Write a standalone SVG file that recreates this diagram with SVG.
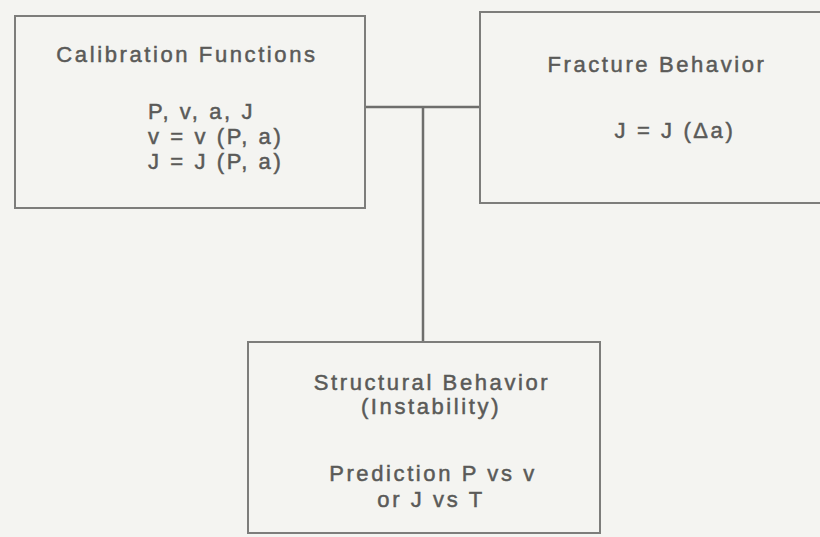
<svg xmlns="http://www.w3.org/2000/svg" width="820" height="537" viewBox="0 0 820 537">
<style>
.box{fill:none;stroke:#7d7d7b;stroke-width:2}
.con{fill:none;stroke:#6e6e6c;stroke-width:2.5}
text{font-family:"Liberation Sans",Arial,sans-serif;font-size:22px;fill:#5a5a58;stroke:#5a5a58;stroke-width:0.5;letter-spacing:2.6px}
.c{text-anchor:middle}
</style>
<rect width="820" height="537" fill="#f4f4f1"/>
<g id="connectors">
<path class="con" d="M365 107 H480"/>
<path class="con" d="M423 107 V342"/>
</g>
<g id="calibration">
<rect class="box" x="15" y="16" width="350" height="192"/>
<text x="187" y="62" class="c">Calibration Functions</text>
<text x="148" y="119">P, v, a, J</text>
<text x="148" y="144">v = v (P, a)</text>
<text x="148" y="169">J = J (P, a)</text>
</g>
<g id="fracture">
<rect class="box" x="480" y="12" width="350" height="191"/>
<text x="657" y="72" class="c">Fracture Behavior</text>
<text x="675" y="138" class="c">J = J (Δa)</text>
</g>
<g id="structural">
<rect class="box" x="248" y="342" width="352" height="191"/>
<text x="432" y="390" class="c">Structural Behavior</text>
<text x="431" y="414" class="c">(Instability)</text>
<text x="433" y="481" class="c">Prediction P vs v</text>
<text x="431" y="507" class="c">or J vs T</text>
</g>
</svg>
